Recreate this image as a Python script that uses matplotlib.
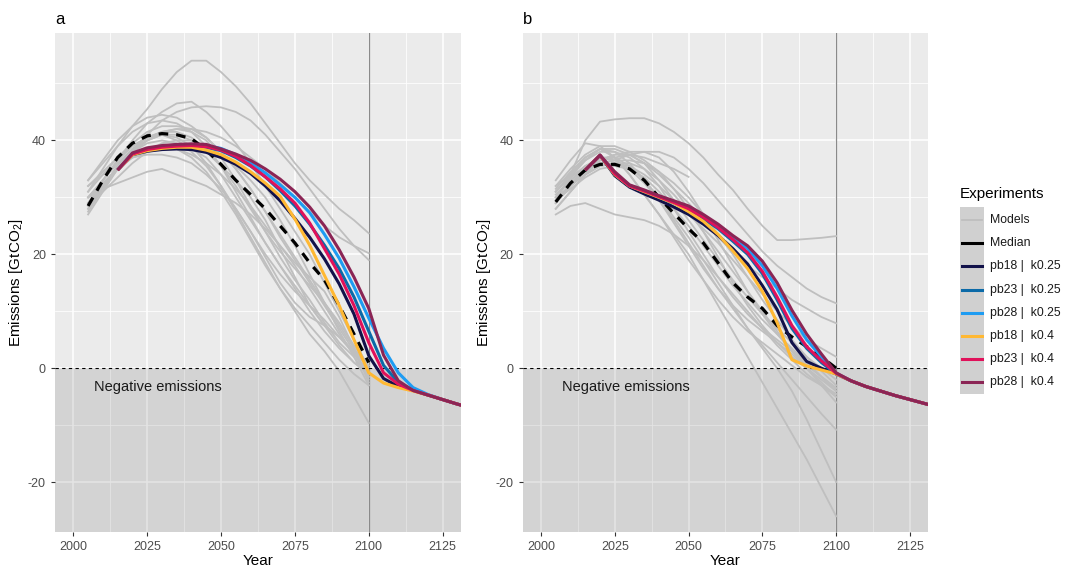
import matplotlib
matplotlib.use('Agg')
import matplotlib.pyplot as plt
from matplotlib.lines import Line2D
from matplotlib.patches import Rectangle
import numpy as np

plt.rcParams['font.family'] = ['Liberation Sans', 'DejaVu Sans']
plt.rcParams['mathtext.fontset'] = 'custom'
plt.rcParams['mathtext.rm'] = 'Liberation Sans'
plt.rcParams['mathtext.it'] = 'Liberation Sans:italic'
plt.rcParams['axes.unicode_minus'] = False

# ---------------- data ----------------
model_years = list(range(2005, 2101, 5))
exp_years = list(range(2015, 2136, 5))

# panel a: individual models
models_a = [
    [33, 36, 39, 42.5, 45.5, 49, 52, 54, 54, 52, 49.5, 46.5, 43, 39.5, 36, 33, 30.5, 28, 26, 23.7],
    [30, 33, 36.5, 40, 43, 45, 46.5, 46.8, 45, 42.5, 39.5, 36, 32, 28, 24, 20, 15, 10, 5, 0],
    [29, 32, 35, 38, 41, 43.5, 45, 45.8, 46, 45.8, 45, 43.5, 41, 38, 35, 31.5, 28, 24.5, 21.5, 19],
    [32, 34.5, 37, 39, 40.5, 41.5, 42, 42, 41.5, 40.5, 39, 37, 35, 32.5, 30, 27.5, 25, 23, 21.5, 20.2],
    [28, 32, 35.5, 38.5, 40.5, 41, 40, 38.5, 37, 34, 30, 26, 22, 18, 14, 10, 6.5, 3.5, 1, -1],
    [30, 31.5, 32.5, 33.5, 34.5, 35, 34, 33, 32, 30.5, 29, 27, 24.5, 21.5, 18, 14, 10, 6, 2.5, -0.5],
    [27, 31, 35, 38, 40, 41, 40.5, 39, 36, 32, 27.5, 23, 18.5, 14, 10, 6, 3, -0.5, -5, -9.6],
    [29, 33, 36.5, 39, 40.5, 41.5, 41.5, 40.5, 38.5, 35.5, 32, 28, 24, 20.5, 17.5, 14.5, 11.5, 8, 4, 0.5],
    [28, 32, 35.5, 38, 39.5, 40, 39.5, 38, 35.5, 32, 28, 24, 20, 16.5, 13.5, 11, 8.5, 5.5, 2.5, -1],
    [31, 34, 37, 39.5, 41.5, 42.5, 42.5, 42, 40.5, 38, 35, 31.5, 27.5, 23, 19, 15, 11, 7, 3, -1.5],
    [30, 32.5, 35, 37, 38, 38.5, 38.5, 37.5, 36, 34, 31.5, 28.5, 25, 21.5, 18.5, 16, 13.5, 9, 3.5, -2.5],
    [32, 34, 36, 37, 37.5, 37.5, 37, 36, 34, 31.5, 28, 24, 19.5, 15, 11.5, 9, 7.5, 5.5, 3, 0],
    [27.5, 31.5, 35, 38, 40, 41.5, 42, 41.5, 40, 37, 33, 28.5, 24, 19.5, 15.5, 12, 8, 4.5, 2, -3],
    [30, 33, 36, 38.5, 40, 41, 41, 40, 38, 35.5, 33, 30, 26, 21, 16, 11, 7.5, 5.5, 3, -2],
    [29, 31, 33.5, 36, 38, 39.5, 40, 40, 39, 37.5, 35.5, 33, 30, 26, 21.5, 16.5, 11.5, 6.5, 2, -1.5],
    [31, 35, 39, 41.5, 43, 43.5, 43, 41.5, 39, 35.5, 31, 26.5, 22, 18, 14.5, 11, 7.5, 4, 1, -1],
    [28.5, 32, 35, 37, 38.5, 39, 38.5, 37, 34.5, 31, 27, 22.5, 18, 14, 10.5, 7.5, 4.5, 1.5, -1, -3],
    [33, 36.5, 40, 42.5, 44, 44.5, 44, 42.5, 40.5, 38, 35, 31.5, 27.5, 23.5, 19.5, 15.5, 11.5, 7.5, 3.5, 0],
]
median_a = [28.5, 33, 37, 39.5, 40.8, 41.2, 41, 40.3, 38.3, 35.8, 33, 30.5, 28, 25, 22, 18.5, 15.5, 11, 6, 1]

pb18_k025_a = [34.8, 37.5, 38.1, 38.4, 38.5, 38.4, 37.9, 37.0, 35.8, 34.2, 32.0, 29.4, 26.3, 23.0, 19.2, 14.8, 9.5, 2.2, -1.8, -3.2, -3.9, -4.7, -5.5, -6.3, -7.0]
pb23_k025_a = [34.8, 37.6, 38.4, 38.8, 39.0, 39.1, 38.8, 38.2, 37.0, 35.5, 33.6, 31.2, 28.5, 25.3, 21.6, 17.5, 12.5, 6.5, 0.5, -2.5, -3.9, -4.7, -5.5, -6.3, -7.0]
pb28_k025_a = [34.8, 37.7, 38.5, 38.9, 39.2, 39.3, 39.1, 38.6, 37.5, 36.0, 34.3, 32.2, 30.0, 27.3, 23.5, 19.3, 14.3, 8.8, 3.5, -0.8, -3.4, -4.6, -5.5, -6.3, -7.0]
pb18_k04_a = [34.8, 37.5, 38.2, 38.6, 38.8, 38.8, 38.3, 37.5, 36.2, 34.5, 32.5, 30.2, 26.2, 21.6, 16.3, 11.0, 5.0, -0.8, -2.6, -3.4, -4.0, -4.7, -5.5, -6.3, -7.0]
pb23_k04_a = [34.8, 37.6, 38.4, 38.8, 39.0, 39.1, 38.9, 38.3, 37.2, 35.6, 33.6, 31.5, 29.0, 25.5, 21.0, 16.5, 11.0, 4.5, -0.8, -2.8, -3.9, -4.7, -5.5, -6.3, -7.0]
pb28_k04_a = [34.8, 37.8, 38.7, 39.1, 39.3, 39.4, 39.3, 38.5, 37.6, 36.5, 35.0, 33.2, 31.0, 28.3, 25.0, 20.8, 16.0, 10.5, 2.3, -2.2, -3.9, -4.7, -5.5, -6.3, -7.0]

# panel b: individual models
models_b = [
    [32, 34, 40, 43.3, 43.7, 43.9, 43.9, 43, 41.5, 39.5, 37, 34, 31.3, 28, 25, 22.5, 22.5, 22.7, 22.9, 23.2],
    [31, 33.5, 35.5, 36.5, 37, 37.5, 37, 36, 35, 33.6, np.nan, np.nan, np.nan, np.nan, np.nan, np.nan, np.nan, np.nan, np.nan, np.nan],
    [29, 32, 34.5, 36, 36.5, 37.5, 38, 38, 37, 35, 32.5, 29.5, 26.5, 23.5, 20.5, 18, 16, 14, 12.5, 11.4],
    [30, 33.5, 36.5, 38.5, 38.5, 37.5, 36, 34, 31.5, 29, 26, 23, 20.5, 18, 16, 14, 12, 10.5, 9, 7.9],
    [33, 36.5, 39.5, 39, 37, 34, 30.5, 27, 23, 19, 15.5, 12, 9, 6.5, 4.5, 2.5, 0.5, -1.5, -3, -4.5],
    [27, 28.5, 29, 28, 27, 26.5, 26, 25, 23.5, 21.5, 19, 16, 13, 10, 7, 4, 1.5, -1, -3, -5],
    [31, 34, 37, 38.5, 37, 34, 30.5, 27, 23.5, 20, 15.5, 11, 6.5, 2, -2.5, -7, -11.5, -16, -21, -26],
    [29, 32, 35, 37, 37, 35.5, 33, 30, 26.5, 23, 19, 15, 11, 7, 3.5, 0, -4, -9, -14.5, -20],
    [30, 33, 35.5, 37, 36.5, 35, 32.5, 29.5, 26, 22, 18, 14, 10.5, 7, 4, 1, -2, -5, -8, -10.8],
    [29, 32.5, 35, 36.5, 37.5, 37.5, 36, 33, 29.5, 26, 22.5, 19, 15.5, 12.5, 9.5, 7, 4.5, 2, -0.5, -3],
    [31, 34, 36.5, 38, 38, 37, 35, 32, 28, 24, 20, 16, 12.5, 9.5, 7, 5, 3, 1, -1.5, -4],
    [28, 31, 34, 35.5, 36, 36, 35, 33, 30.5, 27.5, 24, 20.5, 17, 13.5, 10, 6.5, 3, 0, -2.5, -5],
    [30.5, 33, 35, 36, 36.5, 36.5, 36, 34.5, 32.5, 30, 27, 23.5, 20, 16, 12, 8.5, 5, 2, 0, -2],
    [32, 35, 37.5, 39, 39, 38, 36.5, 34.5, 31.5, 28, 24, 19.5, 15, 11, 7.5, 4.5, 2, 0, -2, -4],
    [29.5, 31.5, 33.5, 35, 35.5, 35, 33.5, 31, 28, 25, 21.5, 18, 14.5, 11.5, 8.5, 6, 3.5, 1, -1.5, -3.5],
    [28, 31, 34, 36.5, 37.5, 38, 38, 37, 34.5, 31, 27, 22.5, 18, 13.5, 9.5, 6, 3, 0.5, -1.5, -3.5],
    [31.5, 34.5, 37, 38.5, 38, 36, 33, 29.5, 25.5, 21.5, 17.5, 14, 11, 8.5, 6.5, 4.5, 2.5, 0, -3, -6],
    [30, 32, 34, 35.5, 36, 35.5, 34, 32, 29.5, 27, 24.5, 22, 19, 16, 13, 10, 7.5, 5, 3.5, 2],
]
median_b = [29.2, 32.5, 34.8, 35.8, 35.8, 35, 33, 30, 27.2, 24.5, 22, 18.5, 15, 12.5, 10.5, 7.5, 5.5, 3.8, 2, 0]

pb18_k025_b = [34.8, 37.4, 33.8, 31.8, 30.6, 29.5, 28.3, 27.0, 25.3, 23.3, 21.0, 18.3, 14.5, 10.3, 4.5, 1.2, 0.0, -1.0, -2.2, -3.2, -4.0, -4.8, -5.5, -6.2, -6.9]
pb23_k025_b = [34.8, 37.4, 34.0, 32.0, 31.0, 30.0, 29.0, 27.9, 26.3, 24.5, 22.3, 20.0, 16.6, 12.0, 7.0, 3.5, 1.0, -1.0, -2.2, -3.2, -4.0, -4.8, -5.5, -6.2, -6.9]
pb28_k025_b = [34.8, 37.4, 34.2, 32.1, 31.2, 30.2, 29.2, 28.2, 26.7, 25.0, 23.0, 21.0, 18.0, 14.0, 9.2, 5.0, 2.0, -0.9, -2.2, -3.2, -4.0, -4.8, -5.5, -6.2, -6.9]
pb18_k04_b = [34.8, 37.4, 34.0, 32.0, 31.0, 30.0, 29.0, 27.5, 25.8, 23.5, 20.6, 17.5, 13.5, 8.0, 1.5, 0.4, -0.3, -1.0, -2.2, -3.2, -4.0, -4.8, -5.5, -6.2, -6.9]
pb23_k04_b = [34.8, 37.4, 34.1, 32.0, 31.1, 30.1, 29.1, 28.0, 26.5, 24.7, 22.6, 20.3, 17.0, 12.5, 7.5, 3.8, 1.3, -0.9, -2.2, -3.2, -4.0, -4.8, -5.5, -6.2, -6.9]
pb28_k04_b = [34.8, 37.4, 34.5, 32.2, 31.3, 30.3, 29.4, 28.5, 27.0, 25.3, 23.3, 21.5, 18.8, 15.0, 10.2, 6.0, 2.5, -0.8, -2.2, -3.2, -4.0, -4.8, -5.5, -6.2, -6.9]

exp_labels = ['pb18 |  k0.25', 'pb23 |  k0.25', 'pb28 |  k0.25', 'pb18 |  k0.4', 'pb23 |  k0.4', 'pb28 |  k0.4']
exp_colors = ['#12124a', '#0b6aa8', '#1e9cf2', '#ffb833', '#e0115a', '#8b2555']
model_color = '#bfbfbf'

# ---------------- figure ----------------
fig = plt.figure(figsize=(10.68, 5.75), dpi=100)
ax_a = fig.add_axes([0.0515, 0.0753, 0.3801, 0.8667])
ax_b = fig.add_axes([0.4894, 0.0753, 0.3798, 0.8667])


def style_panel(ax):
    ax.set_facecolor('#ebebeb')
    ax.set_xlim(1993.8, 2131.2)
    ax.set_ylim(-28.7, 58.8)
    ax.set_xticks([2000, 2025, 2050, 2075, 2100, 2125])
    ax.set_xticks([2012.5, 2037.5, 2062.5, 2087.5, 2112.5], minor=True)
    ax.set_yticks([-20, 0, 20, 40])
    ax.set_yticks([-10, 10, 30, 50], minor=True)
    ax.set_axisbelow(True)
    ax.grid(which='major', color='white', lw=1.1)
    ax.grid(which='minor', color='white', lw=0.55)
    for s in ax.spines.values():
        s.set_visible(False)
    ax.tick_params(which='major', length=3, color='#333333', labelcolor='#4d4d4d', labelsize=9)
    ax.tick_params(which='minor', length=0)
    ax.axhspan(-40, 0, color='black', alpha=0.1, lw=0, zorder=1)
    ax.axvline(2100, color='#8a8a8a', lw=0.9, zorder=1.5)
    ax.axhline(0, color='black', lw=0.8, ls=(0, (3, 3)), zorder=2.5)
    ax.text(2007, -3.3, 'Negative emissions', fontsize=10.5, color='#1a1a1a', va='center', ha='left', zorder=5)
    ax.set_xlabel('Year', fontsize=11, labelpad=1)
    ax.set_ylabel('Emissions [GtCO$_2$]', fontsize=11, labelpad=2)


def draw_panel(ax, models, median, exps):
    for m in models:
        ax.plot(model_years, m, color=model_color, lw=1.3, zorder=2)
    ax.plot(model_years, median, color='black', lw=2.3, ls=(0, (3, 2.5)), zorder=3)
    for vals, c in zip(exps, exp_colors):
        ax.plot(exp_years, vals, color=c, lw=2.2, zorder=4, solid_capstyle='butt')


style_panel(ax_a)
style_panel(ax_b)
draw_panel(ax_a, models_a, median_a,
           [pb18_k025_a, pb23_k025_a, pb28_k025_a, pb18_k04_a, pb23_k04_a, pb28_k04_a])
draw_panel(ax_b, models_b, median_b,
           [pb18_k025_b, pb23_k025_b, pb28_k025_b, pb18_k04_b, pb23_k04_b, pb28_k04_b])

fig.text(55 / 1068, 1 - 19 / 575, 'a', fontsize=12, va='center', ha='left')
fig.text(523 / 1068, 1 - 19 / 575, 'b', fontsize=12, va='center', ha='left')

# ---------------- legend ----------------
fig.text(960 / 1068, 1 - 194 / 575, 'Experiments', fontsize=11, va='center', ha='left')
fig.add_artist(Rectangle((960 / 1068, 1 - 394 / 575), 24 / 1068, 187 / 575,
                         transform=fig.transFigure, facecolor='#d0d0d0', edgecolor='none'))
leg_labels = ['Models', 'Median'] + exp_labels
leg_colors = [model_color, 'black'] + exp_colors
for i, (lab, c) in enumerate(zip(leg_labels, leg_colors)):
    yy = 1 - (220 + i * 23.2) / 575
    fig.add_artist(Line2D([962 / 1068, 982 / 1068], [yy, yy], transform=fig.transFigure,
                          color=c, lw=1.3 if i == 0 else 2.2))
    fig.text(990 / 1068, yy, lab, fontsize=8.8, va='center', ha='left', color='#1a1a1a')

fig.savefig('out.png', dpi=100)
